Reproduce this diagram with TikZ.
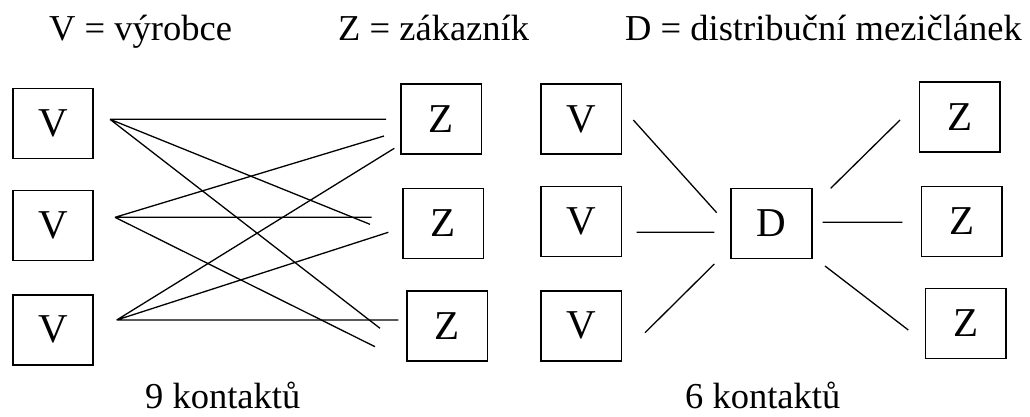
\documentclass[tikz,border=0pt]{standalone}
\usepackage{fontspec}
\setmainfont{Liberation Serif}
\begin{document}
\begin{tikzpicture}[x=1pt,y=-1pt,
  box/.style={draw, line width=1.6pt, minimum width=80.5pt, minimum height=70pt, inner sep=0pt, font=\fontsize{41}{48}\selectfont},
  lbl/.style={inner sep=0pt, font=\fontsize{36.5}{44}\selectfont},
  link/.style={line width=1.3pt}]
\useasboundingbox (0,0) rectangle (1030,416);
% header
\node[lbl, anchor=base west] (hv) at (49,40) {V = výrobce};
\node[lbl, anchor=base west] (hz) at (338,40) {Z = zákazník};
\node[lbl, anchor=base west] (hd) at (625,40) {D = distribuční mezičlánek};
% left part
\node[box] (v1) at (53,123.3) {V};
\node[box] (v2) at (53,225.5) {V};
\node[box] (v3) at (53,329.7) {V};
\node[box] (z1) at (441.3,119) {Z};
\node[box] (z2) at (443.2,223.5) {Z};
\node[box] (z3) at (447.3,325.8) {Z};
\coordinate (a1) at (110,119.3);
\coordinate (a2) at (115,217.3);
\coordinate (a3) at (116.7,320);
\coordinate (e11) at (386,119.3);
\coordinate (e12) at (370,224.3);
\coordinate (e13) at (380,328.3);
\coordinate (e21) at (384,136);
\coordinate (e22) at (371.7,217.3);
\coordinate (e23) at (375,346.7);
\coordinate (e31) at (394.3,148.3);
\coordinate (e32) at (388.3,232.3);
\coordinate (e33) at (398.3,320);
\draw[link] (a1) -- (e11) (a1) -- (e12) (a1) -- (e13);
\draw[link] (a2) -- (e21) (a2) -- (e22) (a2) -- (e23);
\draw[link] (a3) -- (e31) (a3) -- (e32) (a3) -- (e33);
\node[lbl, anchor=base west] (k9) at (145,408) {9 kontaktů};
% right part
\node[box] (v4) at (581.3,119) {V};
\node[box] (v5) at (581.3,221.3) {V};
\node[box] (v6) at (581.3,325.8) {V};
\node[box] (d) at (771.5,223.3) {D};
\node[box] (z4) at (959.7,117) {Z};
\node[box] (z5) at (961.7,221.3) {Z};
\node[box] (z6) at (965.7,323.3) {Z};
\coordinate (b1s) at (633.3,120);
\coordinate (b1e) at (716.7,212.7);
\coordinate (b2s) at (636.7,232.3);
\coordinate (b2e) at (714.3,232.3);
\coordinate (b3s) at (645,332.7);
\coordinate (b3e) at (714.3,264);
\coordinate (c1s) at (830.7,188.3);
\coordinate (c1e) at (900,120);
\coordinate (c2s) at (822.7,222.3);
\coordinate (c2e) at (902.3,222.3);
\coordinate (c3s) at (825,266);
\coordinate (c3e) at (908.3,330);
\draw[link] (b1s) -- (b1e) (b2s) -- (b2e) (b3s) -- (b3e);
\draw[link] (c1s) -- (c1e) (c2s) -- (c2e) (c3s) -- (c3e);
\node[lbl, anchor=base west] (k6) at (685,408) {6 kontaktů};
\end{tikzpicture}
\end{document}
